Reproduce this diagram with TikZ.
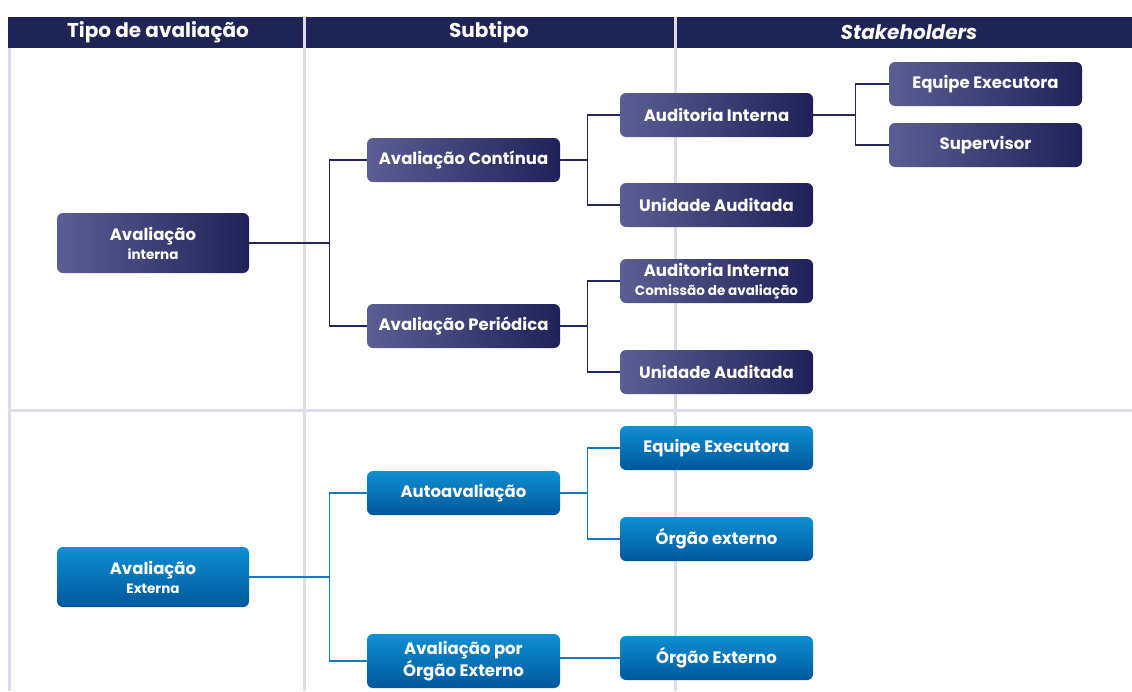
\documentclass[tikz,border=0pt]{standalone}
\usepackage{fontspec}
\setmainfont{Poppins}
\usetikzlibrary{positioning}
\definecolor{headblue}{HTML}{1E2456}
\definecolor{navyL}{HTML}{5A5E93}
\definecolor{navyR}{HTML}{1F2258}
\definecolor{blueT}{HTML}{0E8FD2}
\definecolor{blueB}{HTML}{00579C}
\definecolor{grid}{HTML}{DEDCEC}
\definecolor{linkN}{HTML}{23275E}
\definecolor{linkB}{HTML}{1479BF}
\newcommand{\subline}[1]{{\fontsize{13.5}{16}\selectfont #1}}
\tikzset{
  box/.style={rounded corners=6pt, text=white, align=center, font=\bfseries\fontsize{16.5}{19}\selectfont,
    minimum width=193pt, minimum height=44pt, inner sep=0pt},
  boxn/.style={box, left color=navyL, right color=navyR},
  boxb/.style={box, top color=blueT, bottom color=blueB},
  big/.style={minimum width=192pt, minimum height=60pt},
  linkn/.style={draw=linkN, line width=1.2pt},
  linkb/.style={draw=linkB, line width=1.2pt},
  divline/.style={draw=grid, line width=3pt},
  headtxt/.style={text=white, font=\bfseries\fontsize{20}{23}\selectfont}
}
\begin{document}
\begin{tikzpicture}[x=1pt,y=-1pt]
  \useasboundingbox (0,0) rectangle (1132,691);
  % header and grid
  \fill[headblue] (8,17) rectangle (1132,48);
  \draw[divline] (9.5,48) -- (9.5,691);
  \draw[divline] (304,17) -- (304,691);
  \draw[divline] (675,17) -- (675,691);
  \draw[divline] (8,410) -- (1132,410);
  \node[headtxt] (h1) at (158,32) {Tipo de avaliação};
  \node[headtxt] (h2) at (489,32) {Subtipo};
  \node[headtxt] (h3) at (909,32) {\itshape Stakeholders};

  % avaliacao interna
  \node[boxn, big] (ai) at (153,243) {Avaliação\\\subline{interna}};
  \node[boxn] (ac) at (463.5,160) {Avaliação Contínua};
  \node[boxn] (ap) at (463.5,326) {Avaliação Periódica};
  \node[boxn] (au1) at (716.5,115) {Auditoria Interna};
  \node[boxn] (ua1) at (716.5,205) {Unidade Auditada};
  \node[boxn] (au2) at (716.5,281) {Auditoria Interna\\\subline{Comissão de avaliação}};
  \node[boxn] (ua2) at (716.5,372) {Unidade Auditada};
  \node[boxn] (ee1) at (985.5,84) {Equipe Executora};
  \node[boxn] (sup) at (985.5,145) {Supervisor};

  \draw[linkn] (ai.east) -- ++(80,0) coordinate (j1);
  \draw[linkn] (ac.west) -| (j1) |- (ap.west);
  \draw[linkn] (ac.east) -- ++(27,0) coordinate (j2);
  \draw[linkn] (au1.west) -| (j2) |- (ua1.west);
  \draw[linkn] (ap.east) -- ++(27,0) coordinate (j3);
  \draw[linkn] (au2.west) -| (j3) |- (ua2.west);
  \draw[linkn] (au1.east) -- ++(42,0) coordinate (j4);
  \draw[linkn] (ee1.west) -| (j4) |- (sup.west);

  % avaliacao externa
  \node[boxb, big] (ae) at (153,577) {Avaliação\\\subline{Externa}};
  \node[boxb] (aa) at (463.5,493) {Autoavaliação};
  \node[boxb, minimum height=54pt] (ao) at (463.5,661) {Avaliação por\\Órgão Externo};
  \node[boxb] (ee2) at (716.5,448) {Equipe Executora};
  \node[boxb] (oe1) at (716.5,539) {Órgão externo};
  \node[boxb] (oe2) at (716.5,658) {Órgão Externo};

  \draw[linkb] (ae.east) -- ++(80,0) coordinate (j5);
  \draw[linkb] (aa.west) -| (j5) |- (ao.west);
  \draw[linkb] (aa.east) -- ++(27,0) coordinate (j6);
  \draw[linkb] (ee2.west) -| (j6) |- (oe1.west);
  \draw[linkb] (ao.east |- oe2) -- (oe2.west);
\end{tikzpicture}
\end{document}
